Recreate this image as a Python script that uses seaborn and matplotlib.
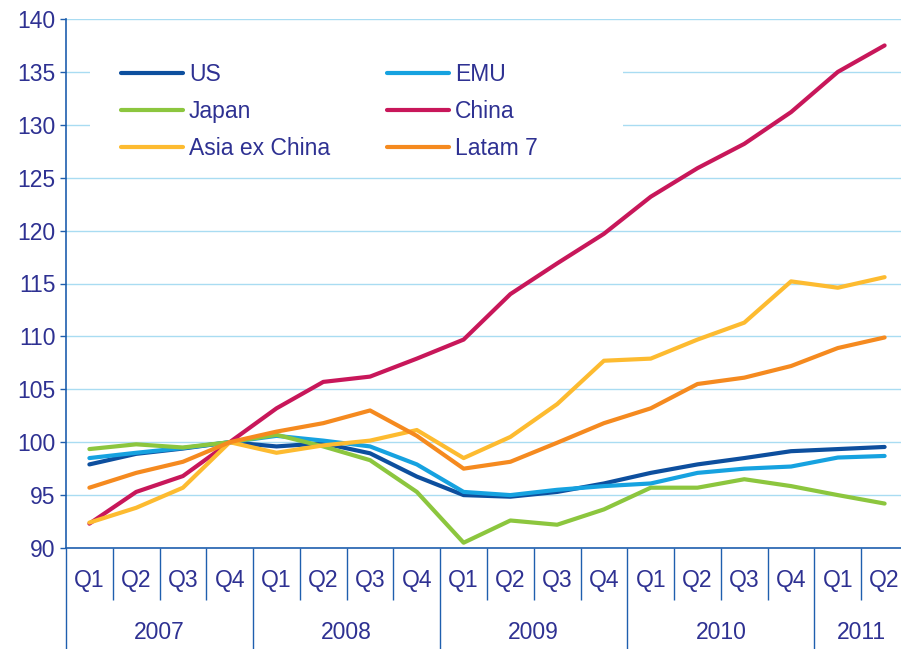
import pandas as pd
import matplotlib.pyplot as plt
import matplotlib.transforms as mtransforms
from matplotlib.patches import Rectangle
import seaborn as sns

# =========================
# Data (index, Q4 2007 = 100)
# =========================
quarters = ["Q1", "Q2", "Q3", "Q4"] * 4 + ["Q1", "Q2"]
years = ["2007", "2008", "2009", "2010", "2011"]
year_spans = [4, 4, 4, 4, 2]

us = [97.9, 98.9, 99.4, 100.0, 99.6, 99.9, 98.95, 96.75, 95.0,
      94.85, 95.3, 96.1, 97.1, 97.9, 98.5, 99.15, 99.35, 99.55]
emu = [98.5, 99.0, 99.45, 100.0, 100.6, 100.15, 99.6, 97.9, 95.3,
       95.0, 95.5, 95.85, 96.1, 97.1, 97.5, 97.7, 98.55, 98.7]
japan = [99.35, 99.8, 99.5, 100.0, 100.7, 99.6, 98.3, 95.3, 90.5,
         92.6, 92.2, 93.65, 95.7, 95.7, 96.5, 95.85, 95.0, 94.2]
china = [92.3, 95.3, 96.8, 100.0, 103.2, 105.7, 106.2, 107.9, 109.7,
         114.0, 116.9, 119.7, 123.2, 125.9, 128.2, 131.2, 135.0, 137.5]
asia_ex_china = [92.4, 93.8, 95.7, 100.0, 99.0, 99.7, 100.15, 101.15, 98.5,
                 100.5, 103.6, 107.7, 107.9, 109.7, 111.3, 115.2, 114.6, 115.6]
latam7 = [95.7, 97.1, 98.15, 100.0, 101.0, 101.8, 103.0, 100.6, 97.5,
          98.15, 99.95, 101.8, 103.2, 105.5, 106.1, 107.2, 108.9, 109.9]

series = {
    "US": us,
    "EMU": emu,
    "Japan": japan,
    "China": china,
    "Asia ex China": asia_ex_china,
    "Latam 7": latam7,
}
palette = {
    "US": "#0d4f9e",
    "EMU": "#16a2e0",
    "Japan": "#8cc63e",
    "China": "#c8175a",
    "Asia ex China": "#fdbb30",
    "Latam 7": "#f58a1f",
}

TEXT = "#2e3192"
AXIS = "#1f5fae"
GRID = "#a9dcf2"
FS = 16.5

df = pd.DataFrame(
    [(name, i, v) for name, vals in series.items() for i, v in enumerate(vals)],
    columns=["series", "idx", "value"],
)

# =========================
# Plot
# =========================
sns.set_style("white")
plt.rcParams["font.family"] = ["Liberation Sans", "DejaVu Sans"]

fig = plt.figure(figsize=(9.01, 6.49), dpi=100)
ax = fig.add_axes([66 / 901, 101 / 649, 842 / 901, 529 / 649])

sns.lineplot(data=df, x="idx", y="value", hue="series", palette=palette,
             hue_order=list(series.keys()), linewidth=3, ax=ax, sort=False)

n = len(quarters)
ax.set_xlim(-0.5, n - 0.5)
ax.set_ylim(90, 140)
ax.set_yticks(range(90, 141, 5))
ax.yaxis.grid(True, color=GRID, linewidth=1)
ax.set_axisbelow(True)
ax.tick_params(axis="y", left=True, direction="out", length=4.5, width=1,
               color=AXIS, labelcolor=TEXT, labelsize=FS, pad=3)
ax.set_xlabel("")
ax.set_ylabel("")
for s in ["top", "right"]:
    ax.spines[s].set_visible(False)
for s in ["left", "bottom"]:
    ax.spines[s].set_color(AXIS)
    ax.spines[s].set_linewidth(1.2)

# category axis: quarter separators (short) and year separators (long)
bounds = [i - 0.5 for i in range(1, n)]
year_edges = [-0.5]
for span in year_spans:
    year_edges.append(year_edges[-1] + span)
ax.set_xticks([b for b in bounds if b not in year_edges])
ax.set_xticks(year_edges, minor=True)
ax.tick_params(axis="x", which="major", bottom=True, direction="out",
               length=37.5, width=1, color=AXIS, labelbottom=False)
ax.tick_params(axis="x", which="minor", bottom=True, direction="out",
               length=73, width=1, color=AXIS, labelbottom=False)

trans = mtransforms.blended_transform_factory(ax.transData, ax.transAxes)
for i, q in enumerate(quarters):
    ax.text(i, -0.061, q, transform=trans, ha="center", va="center",
            fontsize=FS, color=TEXT)
for k, y in enumerate(years):
    mid = (year_edges[k] + year_edges[k + 1]) / 2
    ax.text(mid, -0.159, y, transform=trans, ha="center", va="center",
            fontsize=FS, color=TEXT)

# legend on a white patch that hides the gridlines
ax.add_patch(Rectangle((24 / 842, 0.735), (623 - 90) / 842, 0.205,
                       transform=ax.transAxes, facecolor="white",
                       edgecolor="none", zorder=1.5))
handles, labels = ax.get_legend_handles_labels()
lookup = dict(zip(labels, handles))
order = ["US", "Japan", "Asia ex China", "EMU", "China", "Latam 7"]
leg = ax.legend([lookup[k] for k in order], order, ncol=2, frameon=False,
                loc="upper left", bbox_to_anchor=(44 / 842, 0.939),
                borderpad=0, fontsize=FS, handlelength=2.7,
                handletextpad=0.25, columnspacing=2.5, labelspacing=0.62,
                labelcolor=TEXT)
for line in leg.get_lines():
    line.set_linewidth(3)

fig.savefig("out.png", dpi=100)
